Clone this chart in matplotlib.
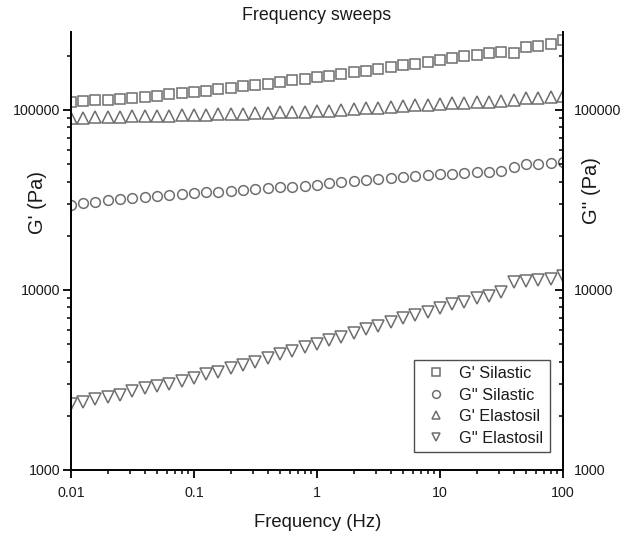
import matplotlib
matplotlib.use("Agg")
import matplotlib.pyplot as plt
from matplotlib.ticker import FixedLocator, FixedFormatter, LogLocator, NullFormatter

plt.rcParams['font.family'] = ['Liberation Sans', 'DejaVu Sans']

# frequences (Hz), 10 points par decade de 0.01 a 100
freq = [0.01, 0.0126, 0.0158, 0.02, 0.0251, 0.0316, 0.0398, 0.0501, 0.0631, 0.0794,
        0.1, 0.126, 0.158, 0.2, 0.251, 0.316, 0.398, 0.501, 0.631, 0.794,
        1.0, 1.26, 1.58, 2.0, 2.51, 3.16, 3.98, 5.01, 6.31, 7.94,
        10.0, 12.6, 15.8, 20.0, 25.1, 31.6, 39.8, 50.1, 63.1, 79.4, 100.0]

g1_silastic = [111000, 112000, 113000, 114000, 115500, 117000, 118500, 120000, 122000, 124000,
               126000, 128000, 130000, 132500, 135000, 137500, 140000, 143000, 146000, 149000,
               152000, 155000, 158500, 162000, 165500, 169000, 173000, 177000, 181000, 185000,
               190000, 195000, 199000, 203000, 207000, 211000, 208000, 225000, 228000, 232000, 245000]

g2_silastic = [29650, 30550, 30970, 31620, 32060, 32580, 32960, 33270, 33730, 34120,
               34440, 34800, 35200, 35550, 35900, 36300, 36700, 37100, 37500, 37900,
               38300, 39400, 40000, 40500, 40800, 41400, 42100, 42600, 43000, 43500,
               43900, 44300, 44700, 45100, 45400, 45800, 48400, 50100, 50100, 50900, 51600]

g1_elastosil = [90500, 90800, 91000, 91300, 91600, 92000, 92300, 92700, 93000, 93400,
                93800, 94200, 94600, 95000, 95400, 95800, 96300, 96800, 97300, 97800,
                98300, 99200, 100100, 101000, 102000, 103000, 104000, 105000, 106000, 107000,
                108000, 108800, 109600, 110400, 111200, 112000, 113500, 116000, 117000, 118500, 119700]

g2_elastosil = [2328, 2394, 2470, 2553, 2610, 2760, 2845, 2930, 3005, 3120,
                3230, 3400, 3520, 3670, 3830, 4000, 4170, 4390, 4600, 4810,
                5010, 5270, 5500, 5790, 6070, 6310, 6670, 6960, 7260, 7570,
                7900, 8330, 8610, 8990, 9290, 9790, 11120, 11220, 11370, 11460, 11960]

x_ticks = [0.01, 0.1, 1, 10, 100]
x_labels = ["0.01", "0.1", "1", "10", "100"]
y_ticks = [1000, 10000, 100000]
y_labels = ["1000", "10000", "100000"]

gris = '#6e6e6e'
texte = '#1a1a1a'

fig = plt.figure(figsize=(6.22, 5.38), dpi=100)
ax = fig.add_axes([0.114, 0.1264, 0.791, 0.8141])

ax.plot(freq, g1_silastic, ls='none', marker='s', ms=6.5, mfc='none', mec=gris, mew=1.1, label="G' Silastic")
ax.plot(freq, g2_silastic, ls='none', marker='o', ms=7, mfc='none', mec=gris, mew=1.1, label="G'' Silastic")
ax.plot(freq, g1_elastosil, ls='none', marker='^', ms=8, mfc='none', mec=gris, mew=1.1, label="G' Elastosil")
ax.plot(freq, g2_elastosil, ls='none', marker='v', ms=8, mfc='none', mec=gris, mew=1.1, label="G'' Elastosil")

ax.set_xscale('log')
ax.set_yscale('log')
ax.set_xlim(0.01, 100)
ax.set_ylim(1000, 271000)

ax.xaxis.set_major_locator(FixedLocator(x_ticks))
ax.xaxis.set_major_formatter(FixedFormatter(x_labels))
ax.xaxis.set_minor_locator(LogLocator(base=10, subs=range(2, 10)))
ax.xaxis.set_minor_formatter(NullFormatter())
ax.yaxis.set_major_locator(FixedLocator(y_ticks))
ax.yaxis.set_major_formatter(FixedFormatter(y_labels))
ax.yaxis.set_minor_locator(LogLocator(base=10, subs=range(2, 10)))
ax.yaxis.set_minor_formatter(NullFormatter())

ax.spines['top'].set_visible(False)
ax.spines['right'].set_visible(False)
for s in ['left', 'bottom']:
    ax.spines[s].set_linewidth(1.4)
ax.tick_params(which='major', direction='out', length=5.5, width=1.3, labelsize=10.3, labelcolor=texte)
ax.tick_params(axis='y', which='major', pad=2)
ax.tick_params(axis='x', which='major', pad=6)
ax.tick_params(which='minor', direction='out', length=3, width=1.1)

ax2 = ax.twinx()
ax2.set_yscale('log')
ax2.set_ylim(ax.get_ylim())
ax2.yaxis.set_major_locator(FixedLocator(y_ticks))
ax2.yaxis.set_major_formatter(FixedFormatter(y_labels))
ax2.yaxis.set_minor_locator(LogLocator(base=10, subs=range(2, 10)))
ax2.yaxis.set_minor_formatter(NullFormatter())
ax2.spines['top'].set_visible(False)
ax2.spines['left'].set_visible(False)
ax2.spines['bottom'].set_visible(False)
ax2.spines['right'].set_linewidth(1.4)
ax2.tick_params(which='major', direction='in', length=5.5, width=1.3, labelsize=10.3, pad=8, labelcolor=texte)
ax2.tick_params(which='minor', direction='in', length=3, width=1.1)

fig.text(317 / 622, 1 - 16 / 538, "Frequency sweeps", fontsize=12.8, color=texte, ha='center', va='center')

ax.set_xlabel("Frequency (Hz)", fontsize=13.3, color=texte, va='center')
ax.xaxis.set_label_coords(0.502, -0.119)
ax.set_ylabel("G' (Pa)", fontsize=14.5, color=texte, va='center')
ax.yaxis.set_label_coords(-0.067, 0.61)
ax2.set_ylabel("G'' (Pa)", fontsize=14.5, color=texte, va='center')
ax2.yaxis.set_label_coords(1.059, 0.637)

leg = ax.legend(loc='lower right', bbox_to_anchor=(0.9736, 0.041), fontsize=11.7, frameon=True,
                fancybox=False, edgecolor='#222222', handlelength=1.9, handletextpad=0.46,
                borderpad=0.4, labelspacing=0.4, markerscale=0.8, borderaxespad=0)
leg.get_frame().set_linewidth(1.0)
for t in leg.get_texts():
    t.set_color(texte)

fig.savefig("out.png", dpi=100)
